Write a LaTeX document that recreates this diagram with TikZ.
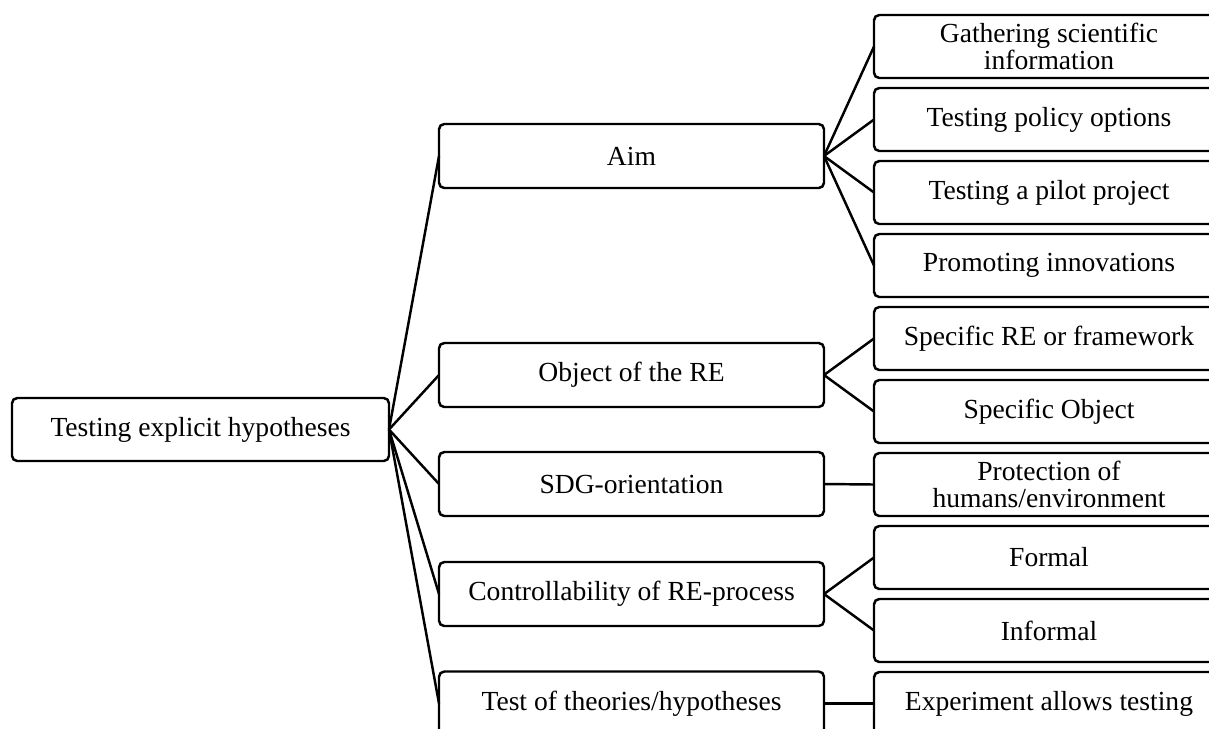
\documentclass[tikz,border=0pt]{standalone}
\usepackage{fontspec}
\setmainfont{Liberation Serif}
\begin{document}
\begin{tikzpicture}[x=0.02cm,y=-0.02cm,
  box/.style={draw,line width=1.4pt,rounded corners=3pt,outer sep=0pt,inner sep=0pt,
    align=center,font=\fontsize{15.7}{15.3}\selectfont},
  rootbox/.style={box,minimum width=377*0.02cm,minimum height=63*0.02cm},
  midbox/.style={box,minimum width=385*0.02cm,minimum height=64*0.02cm},
  leafbox/.style={box,minimum width=350*0.02cm,minimum height=63*0.02cm},
  link/.style={line width=1.4pt}]
\useasboundingbox (0,0) rectangle (1209,728);
\clip (0,0) rectangle (1209,728);
\node[rootbox] (root) at (200.5,429.5) {Testing explicit hypotheses};
\node[midbox] (aim) at (631.5,156) {Aim};
\node[midbox] (obj) at (631.5,375) {Object of the RE};
\node[midbox] (sdg) at (631.5,484) {SDG-orientation};
\node[midbox] (ctrl) at (631.5,594) {Controllability of RE-process};
\node[midbox] (test) at (631.5,703.5) {Test of theories/hypotheses};
\node[leafbox] (l1) at (1049,46.5) {Gathering scientific\\information};
\node[leafbox] (l2) at (1049,119.5) {Testing policy options};
\node[leafbox] (l3) at (1049,192.5) {Testing a pilot project};
\node[leafbox] (l4) at (1049,265.5) {Promoting innovations};
\node[leafbox] (l5) at (1049,338.5) {Specific RE or framework};
\node[leafbox] (l6) at (1049,411.5) {Specific Object};
\node[leafbox] (l7) at (1049,484.5) {Protection of\\humans/environment};
\node[leafbox] (l8) at (1049,557.5) {Formal};
\node[leafbox] (l9) at (1049,630.5) {Informal};
\node[leafbox] (l10) at (1049,703.5) {Experiment allows testing};
\foreach \m in {aim,obj,sdg,ctrl,test} \draw[link] (root.east) -- (\m.west);
\foreach \l in {l1,l2,l3,l4} \draw[link] (aim.east) -- (\l.west);
\foreach \l in {l5,l6} \draw[link] (obj.east) -- (\l.west);
\draw[link] (sdg.east) -- (l7.west);
\foreach \l in {l8,l9} \draw[link] (ctrl.east) -- (\l.west);
\draw[link] (test.east) -- (l10.west);
\end{tikzpicture}
\end{document}
